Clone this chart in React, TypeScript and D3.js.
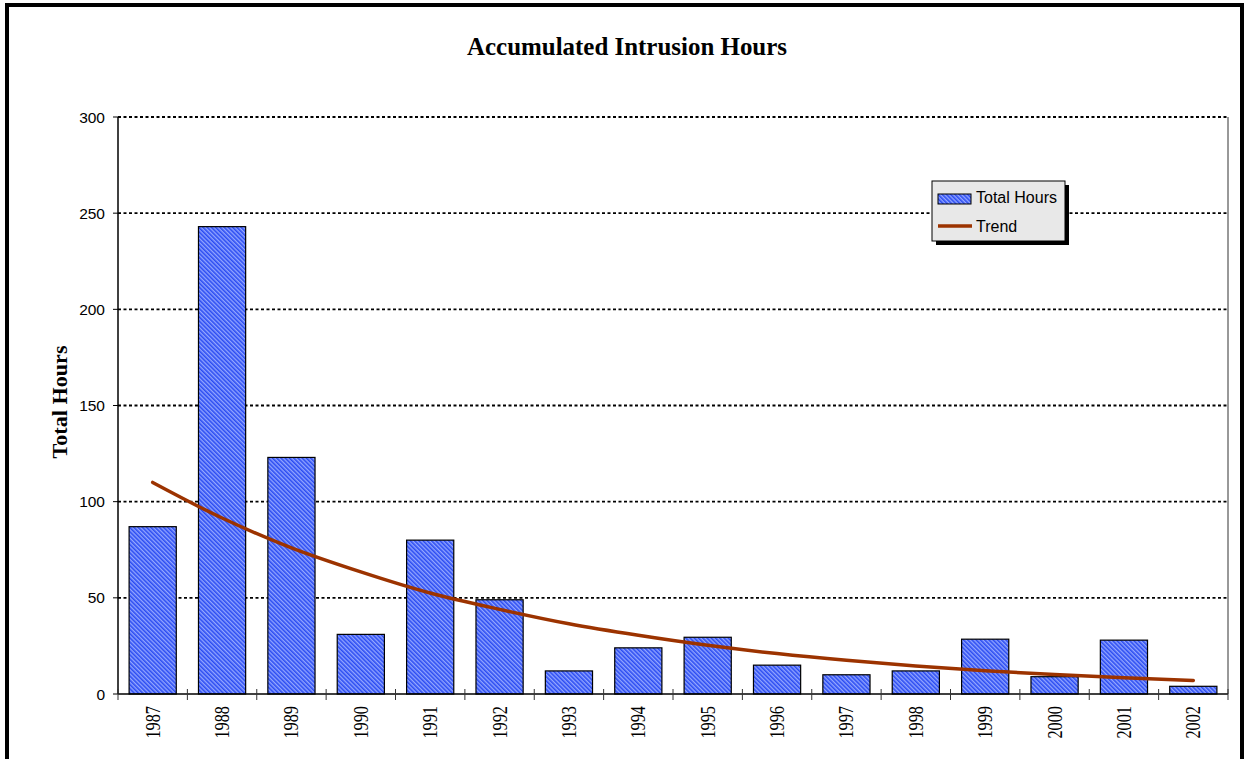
import React from "react";
import * as d3 from "d3";

const years = ["1987","1988","1989","1990","1991","1992","1993","1994","1995","1996","1997","1998","1999","2000","2001","2002"];
const totalHours = [87, 243, 123, 31, 80, 49, 12, 24, 29.5, 15, 10, 12, 28.5, 9, 28, 4];
const trendHours = [110, 91.5, 76, 63.5, 52.5, 44, 36.5, 30.5, 25.3, 21, 17.5, 14.6, 12.1, 10.1, 8.4, 7];
const yTicks = [0, 50, 100, 150, 200, 250, 300];

const W = 1244, H = 759;
const left = 118, right = 1228, top = 117, bottom = 694;

export default function App() {
  const x = d3.scaleBand<string>().domain(years).range([left, right]).paddingInner(0.32).paddingOuter(0.16);
  const y = d3.scaleLinear().domain([0, 300]).range([bottom, top]);
  const step = x.step();
  const line = d3.line<number>()
    .x((_, i) => (x(years[i]) as number) + x.bandwidth() / 2)
    .y((d) => y(d))
    .curve(d3.curveMonotoneX);
  const boundaries = d3.range(years.length + 1).map((i) => left + i * step);

  return (
    <svg width={W} height={H} style={{ position: "absolute", left: 0, top: 0, background: "#fff" }}>
      <defs>
        <pattern id="hatch" width="3" height="3" patternUnits="userSpaceOnUse" patternTransform="rotate(-45)">
          <rect width="3" height="3" fill="#93a6ff" />
          <rect width="1.6" height="3" fill="#2b4cf2" />
        </pattern>
      </defs>
      <rect x={0} y={0} width={W} height={H} fill="#fff" />
      <rect x={7} y={5} width={1235} height={820} fill="none" stroke="#000" strokeWidth={4} />

      <text x={627} y={55} textAnchor="middle" fontFamily="'Liberation Serif', 'Times New Roman', serif"
        fontWeight="bold" fontSize={25} textLength={320} lengthAdjust="spacingAndGlyphs">Accumulated Intrusion Hours</text>

      {/* gridlines */}
      {yTicks.filter((t) => t > 0).map((t) => (
        <line key={t} x1={left} x2={right} y1={y(t)} y2={y(t)} stroke="#000" strokeWidth={1.8} strokeDasharray="3,2.5" />
      ))}
      <line x1={right} x2={right} y1={top} y2={bottom} stroke="#333" strokeWidth={1} />

      {/* bars */}
      {totalHours.map((v, i) => (
        <rect key={years[i]} x={x(years[i])} y={y(v)} width={x.bandwidth()} height={bottom - y(v)}
          fill="url(#hatch)" stroke="#000" strokeWidth={1.2} />
      ))}

      {/* trend */}
      <path d={line(trendHours) || ""} fill="none" stroke="#9c3300" strokeWidth={3.5} strokeLinecap="round" />

      {/* y axis */}
      <line x1={left} x2={left} y1={top} y2={bottom} stroke="#000" strokeWidth={1.5} />
      {yTicks.map((t) => (
        <g key={t}>
          <line x1={113} x2={left} y1={y(t)} y2={y(t)} stroke="#000" strokeWidth={1} />
          <text x={105} y={y(t)} dy="0.36em" textAnchor="end" fontFamily="'Liberation Sans', Arial, sans-serif" fontSize={15.5}>{t}</text>
        </g>
      ))}
      <text transform="translate(67,402) rotate(-90)" textAnchor="middle" fontFamily="'Liberation Serif', 'Times New Roman', serif"
        fontWeight="bold" fontSize={22} textLength={113} lengthAdjust="spacingAndGlyphs">Total Hours</text>

      {/* x axis */}
      <line x1={left} x2={right} y1={bottom} y2={bottom} stroke="#000" strokeWidth={1.5} />
      {boundaries.map((b, i) => (
        <line key={i} x1={b} x2={b} y1={689} y2={700} stroke="#333" strokeWidth={1} />
      ))}
      {years.map((yr) => {
        const cx = (x(yr) as number) + x.bandwidth() / 2;
        return (
          <text key={yr} transform={`translate(${cx + 7},706) rotate(-90)`} textAnchor="end"
            fontFamily="'Liberation Serif', 'Times New Roman', serif" fontSize={20} textLength={32.5} lengthAdjust="spacingAndGlyphs">{yr}</text>
        );
      })}

      {/* legend */}
      <rect x={936} y={185} width={133} height={60} fill="#000" />
      <rect x={932} y={181} width={133} height={60} fill="#e8e8e8" stroke="#000" strokeWidth={1} />
      <rect x={938} y={194} width={33} height={10} fill="url(#hatch)" stroke="#000" strokeWidth={1} />
      <text x={976} y={203} fontFamily="'Liberation Sans', Arial, sans-serif" fontSize={16} textLength={81} lengthAdjust="spacingAndGlyphs">Total Hours</text>
      <line x1={938} x2={972} y1={226} y2={226} stroke="#9c3300" strokeWidth={3.5} />
      <text x={976} y={232} fontFamily="'Liberation Sans', Arial, sans-serif" fontSize={16}>Trend</text>
    </svg>
  );
}
